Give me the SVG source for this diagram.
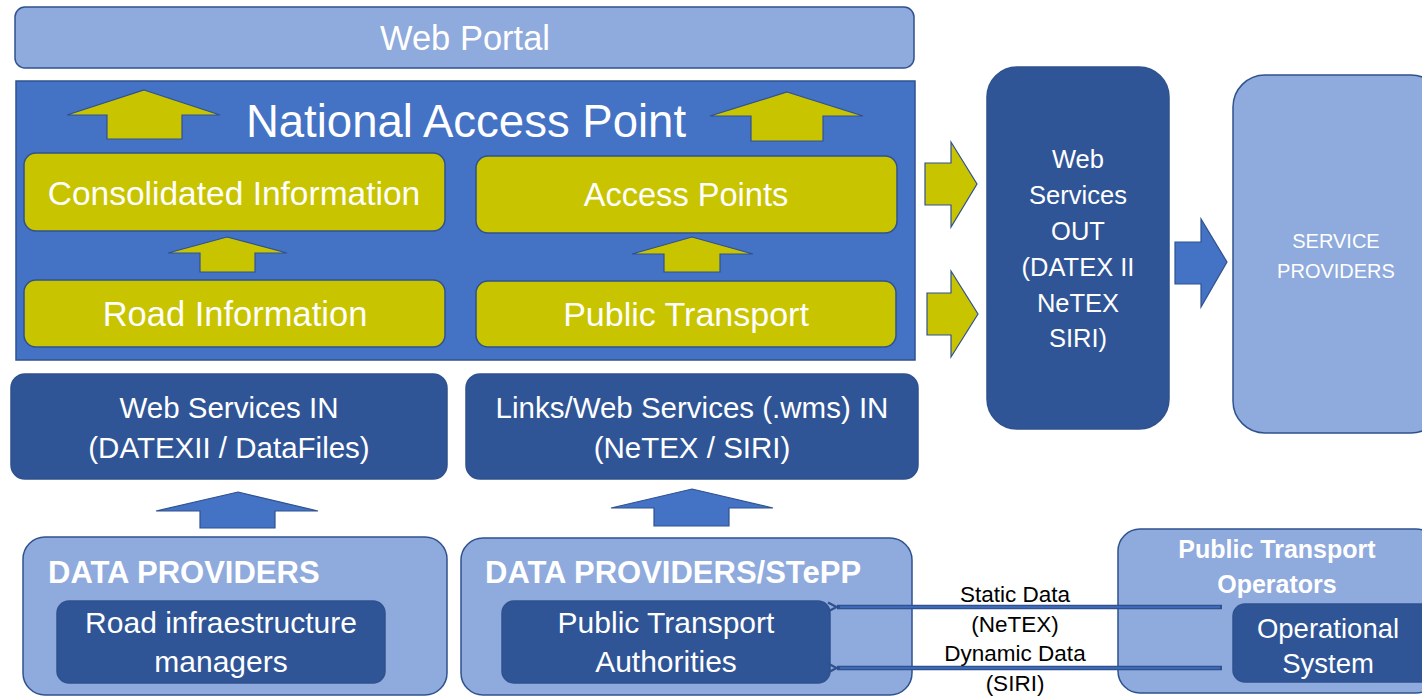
<svg xmlns="http://www.w3.org/2000/svg" width="1422" height="697" viewBox="0 0 1422 697">
<defs>
<style>
.light{fill:#8FAADC;stroke:#2F528F;stroke-width:1.5}
.mid{fill:#4472C4;stroke:#2F528F;stroke-width:1.5}
.dark{fill:#2F5597;stroke:#2F528F;stroke-width:1.5}
.yel{fill:#C9C400;stroke:#2F528F;stroke-width:1.5}
.yarr{fill:#C9C400;stroke:#2F528F;stroke-width:1.2}
.barr{fill:#4472C4;stroke:#2F528F;stroke-width:1.2}
text{font-family:"Liberation Sans",Arial,sans-serif;fill:#fff;text-anchor:middle}
.b{font-weight:bold}
.lbl{fill:#000;font-size:22.5px}
.ln{stroke:#2F528F;stroke-width:4.5;fill:none}
.lni{stroke:#4472C4;stroke-width:1.5;fill:none}
</style>
<marker id="ah" markerWidth="12" markerHeight="12" refX="1" refY="6" orient="auto" markerUnits="userSpaceOnUse">
<path d="M10,1.5 L1.5,6 L10,10.5" fill="none" stroke="#2F528F" stroke-width="2.2"/>
</marker>
</defs>

<g id="web-portal">
<rect class="light" x="15" y="7" width="899" height="61" rx="10"/>
<text x="465" y="50" font-size="34.5">Web Portal</text>
</g>

<g id="nap">
<rect class="mid" x="16" y="81" width="899" height="279"/>
<text x="466" y="137" font-size="45.5">National Access Point</text>
</g>

<g id="consolidated">
<rect class="yel" x="24" y="153" width="421" height="78" rx="12"/>
<text x="234" y="205" font-size="33.5">Consolidated Information</text>
</g>

<g id="access-points">
<rect class="yel" x="476" y="156" width="421" height="77" rx="12"/>
<text x="686" y="206" font-size="32.6">Access Points</text>
</g>

<g id="road-info">
<rect class="yel" x="24" y="280" width="421" height="67" rx="12"/>
<text x="235" y="326" font-size="34.5">Road Information</text>
</g>

<g id="public-transport">
<rect class="yel" x="476" y="281" width="420" height="66" rx="12"/>
<text x="686" y="326" font-size="34">Public Transport</text>
</g>

<g id="ws-in">
<rect class="dark" x="11" y="374" width="436" height="105" rx="14"/>
<text x="229" y="418" font-size="29.5">Web Services IN</text>
<text x="229" y="458" font-size="29.5">(DATEXII / DataFiles)</text>
</g>

<g id="links-in">
<rect class="dark" x="466" y="374" width="452" height="105" rx="14"/>
<text x="692" y="418" font-size="29.5">Links/Web Services (.wms) IN</text>
<text x="692" y="458" font-size="29.5">(NeTEX / SIRI)</text>
</g>

<g id="ws-out">
<rect class="dark" x="987" y="67" width="182" height="362" rx="30"/>
<text x="1078" y="168" font-size="25.5">Web</text>
<text x="1078" y="204" font-size="25.5">Services</text>
<text x="1078" y="240" font-size="25.5">OUT</text>
<text x="1078" y="276" font-size="25.5">(DATEX II</text>
<text x="1078" y="312" font-size="25.5">NeTEX</text>
<text x="1078" y="347" font-size="25.5">SIRI)</text>
</g>

<g id="service-providers">
<rect class="light" x="1233" y="75" width="210" height="358" rx="32"/>
<text x="1336" y="248" font-size="20">SERVICE</text>
<text x="1336" y="278" font-size="20">PROVIDERS</text>
</g>

<g id="data-providers">
<rect class="light" x="23" y="537" width="424" height="158" rx="22"/>
<text x="48" y="583" font-size="31" class="b" style="text-anchor:start">DATA PROVIDERS</text>
</g>

<g id="road-managers">
<rect class="dark" x="57" y="601" width="328" height="82" rx="12"/>
<text x="221" y="633" font-size="30">Road infraestructure</text>
<text x="221" y="672" font-size="30">managers</text>
</g>

<g id="data-providers-stepp">
<rect class="light" x="461" y="538" width="451" height="157" rx="22"/>
<text x="485" y="583" font-size="31" class="b" style="text-anchor:start">DATA PROVIDERS/STePP</text>
</g>

<g id="pt-authorities">
<rect class="dark" x="502" y="601" width="328" height="82" rx="12"/>
<text x="666" y="633" font-size="30">Public Transport</text>
<text x="666" y="672" font-size="30">Authorities</text>
</g>

<g id="pt-operators">
<rect class="light" x="1118" y="529" width="320" height="164" rx="22"/>
<text x="1277" y="558" font-size="25" class="b">Public Transport</text>
<text x="1277" y="593" font-size="25" class="b">Operators</text>
</g>

<g id="operational-system">
<rect class="dark" x="1233" y="604" width="205" height="78" rx="12"/>
<text x="1328" y="638" font-size="27.5">Operational</text>
<text x="1328" y="673" font-size="27.5">System</text>
</g>

<g id="connectors">
<polygon class="yarr" points="144,90 220,115 182,115 182,139 107,139 107,115 67,115"/>
<polygon class="yarr" points="787,92 863,116 823,116 823,141 751,141 751,116 710,116"/>
<polygon class="yarr" points="227,237 287,253 255,253 255,272 200,272 200,253 168,253"/>
<polygon class="yarr" points="692,237 753,254 720,254 720,272 664,272 664,254 632,254"/>
<polygon class="yarr" points="925,163 951,163 951,142 977,184 951,227 951,205 925,205"/>
<polygon class="yarr" points="927,293 951,293 951,271 978,314 951,357 951,335 927,335"/>
<polygon class="barr" points="1175,242 1201,242 1201,219 1227,262 1201,307 1201,284 1175,284"/>
<polygon class="barr" points="238,492 318,511 275,511 275,528 200,528 200,511 156,511"/>
<polygon class="barr" points="692,489 773,508 729,508 729,526 654,526 654,508 611,508"/>
<line class="ln" x1="1222" y1="607" x2="837" y2="607" marker-end="url(#ah)"/>
<line class="lni" x1="1220" y1="607" x2="840" y2="607"/>
<line class="ln" x1="1222" y1="668" x2="837" y2="668" marker-end="url(#ah)"/>
<line class="lni" x1="1220" y1="668" x2="840" y2="668"/>
<text class="lbl" x="1015" y="602">Static Data</text>
<text class="lbl" x="1015" y="632">(NeTEX)</text>
<text class="lbl" x="1015" y="661">Dynamic Data</text>
<text class="lbl" x="1015" y="691">(SIRI)</text>
</g>
</svg>
